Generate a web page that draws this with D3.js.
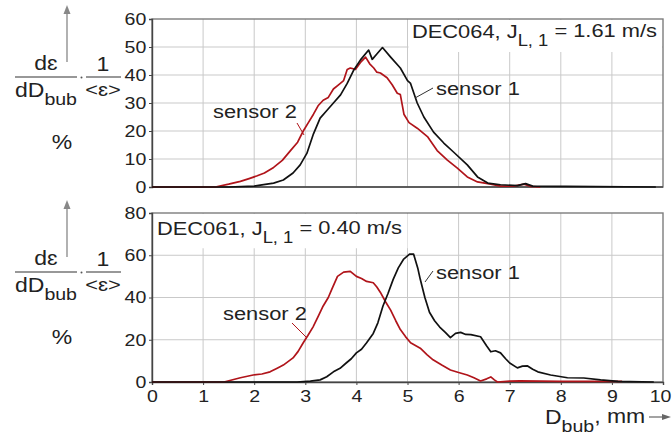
<!DOCTYPE html>
<html><head><meta charset="utf-8">
<script src="https://cdn.jsdelivr.net/npm/d3@7/dist/d3.min.js"></script>
<style>body{margin:0;background:#fff}svg{display:block;font-family:"Liberation Sans",Arial,Helvetica,sans-serif}</style>
</head><body><svg id="c" width="672" height="439"></svg>
<script>
// ---------- data ----------
const xTicks = [0,1,2,3,4,5,6,7,8,9,10];
const topYTicks = [0,10,20,30,40,50,60];
const botYTicks = [0,20,40,60,80];

// Top panel: DEC064, J_L,1 = 1.61 m/s
const topS1x = [0,1.5,2.0,2.12,2.38,2.57,2.76,2.9,3.03,3.16,3.29,3.43,3.55,3.69,3.82,3.95,4.08,4.24,4.31,4.4,4.51,4.67,4.86,5.0,5.06,5.19,5.32,5.51,5.71,5.9,6.17,6.37,6.57,6.82,7.15,7.31,7.45,8.1,9.86];
const topS1y = [0,0,0.3,0.7,1.4,2.5,5,7.9,12,19,24.6,27.5,30,32.9,37,41.8,45.4,48.9,45.6,47.5,49.8,46.4,42.5,38,37,30,25,19.6,15.7,12.5,7.9,3.6,1.4,0.8,0.5,1.2,0.3,0.2,0];
const topS2x = [0,1.24,1.5,1.73,1.9,2.06,2.2,2.38,2.55,2.71,2.85,2.96,3.06,3.16,3.25,3.35,3.45,3.55,3.65,3.75,3.82,3.88,3.98,4.08,4.18,4.26,4.34,4.4,4.47,4.6,4.7,4.8,4.86,4.93,5.03,5.19,5.39,5.58,5.78,5.97,6.17,6.37,6.63,6.82,7.08,7.28,7.41,7.6];
const topS2y = [0,0,1,2,3,4,5,7,9.5,13,16,20,23,26,29,31,32,35,36.5,38,42,42.5,42,44.5,46.4,44,42.5,41,40.7,39,36.5,33.5,33,26,23,21,18,13,9.6,6.8,3.6,1.8,1,0.3,0.3,1,0.2,0];

// Bottom panel: DEC061, J_L,1 = 0.40 m/s
const botS1x = [0,2.84,3.1,3.29,3.42,3.55,3.68,3.8,3.9,4.0,4.1,4.2,4.33,4.42,4.52,4.62,4.72,4.82,4.92,5.04,5.12,5.2,5.25,5.34,5.43,5.53,5.63,5.74,5.84,5.94,6.04,6.14,6.24,6.43,6.55,6.63,6.72,6.82,6.92,7.0,7.15,7.25,7.35,7.45,7.55,7.8,8.13,8.45,8.78,9.12,9.82];
const botS1y = [0,0,0.4,1,2.5,4.8,6.5,9,11,13.8,15.5,18.6,23,28,36,42,48.6,54,58,60.5,60.5,54,48.6,40,33,29,26,23.5,21,23,23.5,22.5,22.4,21.4,17,14.3,14.8,13.8,11,9,6.7,7.5,7.6,6,4.8,3.3,2,1.9,1,0.3,0];
const botS2x = [0,1.41,1.73,1.98,2.15,2.31,2.45,2.57,2.76,2.86,2.96,3.05,3.15,3.25,3.35,3.45,3.52,3.63,3.75,3.88,4.0,4.1,4.2,4.33,4.4,4.47,4.57,4.67,4.77,4.86,4.96,5.06,5.25,5.38,5.5,5.67,5.84,6.0,6.17,6.3,6.43,6.55,6.63,6.7,6.76,7.0,7.2,8.0,9.2];
const botS2y = [0,0,2,3.3,3.8,4.8,6.5,8,11.4,14.5,18.6,22,26,31,36,40,44,50,52,52.4,50,49,47.6,47,45,42.4,38,34,29,24.8,21.5,18.6,16,13,10.5,8,5.7,4.5,3.3,2,0.5,1.5,2.4,1,0,0.4,0.5,0.3,0.3];

// ---------- layout ----------
const svg = d3.select("#c");
const SX = 1.15;
const X0 = 152, X1 = 663;
const x = d3.scaleLinear().domain([0,10]).range([X0,X1]);
const panels = [
  {y0:187, y1:19, max:60, ticks:topYTicks, s1x:topS1x, s1y:topS1y, s2x:topS2x, s2y:topS2y, off:0},
  {y0:382, y1:213, max:80, ticks:botYTicks, s1x:botS1x, s1y:botS1y, s2x:botS2x, s2y:botS2y, off:195}
];
const gridC = "#c9c9c9", frameC = "#7d7d7d", black = "#111", red = "#b0141a";

function txt(g, xx, yy, parts, anchor){
  const t = g.append("text").attr("transform",`translate(${xx},${yy}) scale(${SX},1)`)
    .attr("text-anchor", anchor||"start").attr("fill","#222");
  parts.forEach(p=>{
    t.append("tspan").attr("font-size",p[1]).attr("dy",p[2]||0).text(p[0]);
  });
  return t;
}

panels.forEach((p,i)=>{
  const y = d3.scaleLinear().domain([0,p.max]).range([p.y0,p.y1]);
  const g = svg.append("g");
  g.append("g").selectAll("line").data(xTicks.slice(1,-1)).join("line")
    .attr("x1",d=>x(d)).attr("x2",d=>x(d)).attr("y1",p.y0).attr("y2",p.y1)
    .attr("stroke",gridC).attr("stroke-width",1);
  g.append("g").selectAll("line").data(p.ticks.slice(1,-1)).join("line")
    .attr("x1",X0).attr("x2",X1).attr("y1",d=>y(d)).attr("y2",d=>y(d))
    .attr("stroke",gridC).attr("stroke-width",1);
  if(i===0){
    g.append("rect").attr("x",x(5)+1).attr("y",p.y1+1).attr("width",X1-x(5)-2).attr("height",y(50)-p.y1+4).attr("fill","#fff");
  } else {
    g.append("rect").attr("x",X0+1).attr("y",p.y1+1).attr("width",x(5)-X0-1).attr("height",y(60)-p.y1-8).attr("fill","#fff");
  }
  g.append("rect").attr("x",X0).attr("y",p.y1).attr("width",X1-X0).attr("height",p.y0-p.y1)
    .attr("fill","none").attr("stroke",frameC).attr("stroke-width",1.4);
  const ya = g.append("g").attr("transform",`translate(${X0},0)`)
    .call(d3.axisLeft(y).tickValues(p.ticks).tickSize(3).tickPadding(2));
  ya.select(".domain").attr("stroke","#444").attr("stroke-width",1.4);
  ya.selectAll(".tick line").attr("stroke","#444");
  ya.selectAll("text").attr("font-size",17).attr("fill","#222")
    .attr("font-family",'"Liberation Sans",Arial,sans-serif')
    .attr("transform",`scale(${SX},1)`);
  if(i===1){
    const xa = g.append("g").attr("transform",`translate(0,${p.y0})`)
      .call(d3.axisBottom(x).tickValues(xTicks).tickSize(3).tickPadding(5));
    xa.select(".domain").attr("stroke","#444").attr("stroke-width",1.4);
    xa.selectAll(".tick line").attr("stroke","#444");
    xa.selectAll("text").attr("font-size",17).attr("fill","#222")
      .attr("font-family",'"Liberation Sans",Arial,sans-serif')
      .attr("transform",d=> d===10 ? `translate(-3,0) scale(${SX},1)` : `scale(${SX},1)`);
  } else {
    g.append("line").attr("x1",X0).attr("x2",X1).attr("y1",p.y0).attr("y2",p.y0).attr("stroke","#444").attr("stroke-width",1.4);
  }
  const line = d3.line().x(d=>x(d[0])).y(d=>y(d[1]));
  g.append("path").datum(p.s2x.map((v,k)=>[v,p.s2y[k]])).attr("d",line)
    .attr("fill","none").attr("stroke",red).attr("stroke-width",1.7).attr("stroke-linejoin","round");
  g.append("path").datum(p.s1x.map((v,k)=>[v,p.s1y[k]])).attr("d",line)
    .attr("fill","none").attr("stroke",black).attr("stroke-width",1.7).attr("stroke-linejoin","round");

  const o = p.off;
  const L = svg.append("g");
  L.append("line").attr("x1",67).attr("x2",67).attr("y1",62+o).attr("y2",12+o).attr("stroke","#888").attr("stroke-width",1.3);
  L.append("path").attr("d",`M63.5,${14+o} L67,${5+o} L70.5,${14+o} Z`).attr("fill","#888");
  txt(L,46,70+o,[["dɛ",20]],"middle");
  L.append("line").attr("x1",15).attr("x2",77).attr("y1",77+o).attr("y2",77+o).attr("stroke","#333").attr("stroke-width",1.1);
  txt(L,15,97+o,[["dD",20],["bub",17,"0.45em"]],"start");
  L.append("circle").attr("cx",81.5).attr("cy",77.5+o).attr("r",1).attr("fill","#555");
  L.append("line").attr("x1",86).attr("x2",121).attr("y1",77+o).attr("y2",77+o).attr("stroke","#333").attr("stroke-width",1.1);
  txt(L,103,71+o,[["1",20]],"middle");
  txt(L,103,96+o,[["<ɛ>",19]],"middle");
  txt(L,62,149+o,[["%",20]],"middle");
});

const A = svg.append("g");
txt(A,412,38,[["DEC064, J",19],["L, 1",16,"0.5em"],[" = 1.61 m/s",19,"-0.5em"]]);
txt(A,157,235,[["DEC061, J",19],["L, 1",16,"0.5em"],[" = 0.40 m/s",19,"-0.5em"]]);
txt(A,213,118,[["sensor 2",19]]);
txt(A,436,95,[["sensor 1",19]]);
txt(A,223,320,[["sensor 2",19]]);
txt(A,436,279,[["sensor 1",19]]);
A.append("line").attr("x1",297).attr("y1",123).attr("x2",304).attr("y2",135).attr("stroke",red).attr("stroke-width",1);
A.append("line").attr("x1",433).attr("y1",88).attr("x2",415).attr("y2",98).attr("stroke","#333").attr("stroke-width",1);
A.append("line").attr("x1",292).attr("y1",323).attr("x2",307).attr("y2",338).attr("stroke",red).attr("stroke-width",1);
A.append("line").attr("x1",433).attr("y1",271).attr("x2",425).attr("y2",282).attr("stroke","#333").attr("stroke-width",1);

txt(A,545,424,[["D",20],["bub",17,"0.45em"],[", mm",20,"-0.45em"]]);
A.append("line").attr("x1",649).attr("x2",664).attr("y1",417).attr("y2",417).attr("stroke","#666").attr("stroke-width",1.2);
A.append("path").attr("d","M662,414 L671,417 L662,420 Z").attr("fill","#666");
</script></body></html>
